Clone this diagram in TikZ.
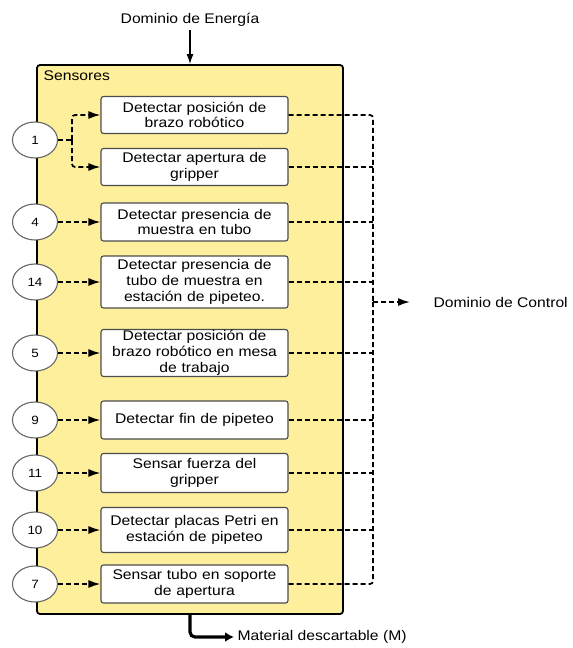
\documentclass[tikz,border=0pt]{standalone}
\usepackage{fontspec}
\setmainfont{Liberation Sans}[FakeStretch=1.12]
\usetikzlibrary{shapes.geometric,arrows.meta}
\definecolor{sensfill}{RGB}{253,239,155}
\newcommand{\txtsz}{\fontsize{14}{15.8}\selectfont}
\newcommand{\numsz}{\fontsize{12}{14}\selectfont}
\begin{document}
\begin{tikzpicture}[x=1pt,y=-1pt,every node/.style={font=\txtsz},
        frm/.style={rectangle,draw=black,line width=1.8pt,rounded corners=3pt,fill=sensfill,inner sep=0},
        sb/.style={rectangle,draw=black!70,line width=1.1pt,rounded corners=2.5pt,fill=white,
            text width=182pt,align=center,inner sep=1pt,minimum width=187pt},
        nm/.style={ellipse,draw=black!60,line width=1.1pt,fill=white,minimum width=45pt,
            minimum height=36pt,inner sep=0,font=\numsz},
        dsh/.style={line width=1.7pt,dash pattern=on 5pt off 3pt},
        tip/.style={-{Latex[length=12pt,width=8pt]}}]
        \useasboundingbox (0,0) rectangle (573,648);
        \node[frm,minimum width=306pt,minimum height=549pt] (sens) at (190,339.5) {};
        \node[anchor=north west] (lbl) at ([xshift=4pt,yshift=-3pt]sens.north west) {Sensores};
        \node (en) at (190,20) {Dominio de Energía};
        \draw[line width=1.3pt,-{Latex[length=10pt,width=7pt]}] (en) -- (sens.north);
        \foreach \y/\h/\n/\t in {115/37/a/{Detectar posición de\\brazo robótico},
            167/37/b/{Detectar apertura de\\gripper},
            222/38/c/{Detectar presencia de\\muestra en tubo},
            282/52/d/{Detectar presencia de\\tubo de muestra en\\estación de pipeteo.},
            353/47/e/{Detectar posición de\\brazo robótico en mesa\\de trabajo},
            420/38/f/{Detectar fin de pipeteo},
            473/39/g/{Sensar fuerza del\\gripper},
            530/45/h/{Detectar placas Petri en\\estación de pipeteo},
            584/38/i/{Sensar tubo en soporte\\de apertura}}{
            \node[sb,minimum height=\h pt] (b\n) at (194.5,\y) {\t};
        }
        \node[nm] (c1) at (35,140) {1};
        \coordinate (s1) at (72,140);
        \draw[dsh] (c1) -- (s1);
        \draw[dsh,tip,rounded corners=3pt] (s1) |- (ba);
        \draw[dsh,tip,rounded corners=3pt] (s1) |- (bb);
        \foreach \k/\n in {4/c,14/d,5/e,9/f,11/g,10/h,7/i}{
            \node[nm] (c\k) at (35,0 |- b\n) {\k};
            \draw[dsh,tip] (c\k) -- (b\n);
        }
        \coordinate (ctl) at (373,302);
        \draw[dsh,rounded corners=3pt] (ba.east) -| (ctl);
        \draw[dsh,rounded corners=3pt] (bi.east) -| (ctl);
        \foreach \n in {b,c,d,e,f,g,h}
            \draw[dsh] (b\n.east) -- (b\n.east -| ctl);
        \node[anchor=west] (dc) at (430,302) {Dominio de Control};
        \draw[dsh,tip] (ctl) -- ([xshift=-20pt]dc.west);
        \node[anchor=west] (mat) at (234,637) {Material descartable (M)};
        \draw[line width=3.2pt,rounded corners=5pt,-{Latex[length=9pt,width=10pt]}] (sens.south) |- (mat.west);
    \end{tikzpicture}
\end{document}
